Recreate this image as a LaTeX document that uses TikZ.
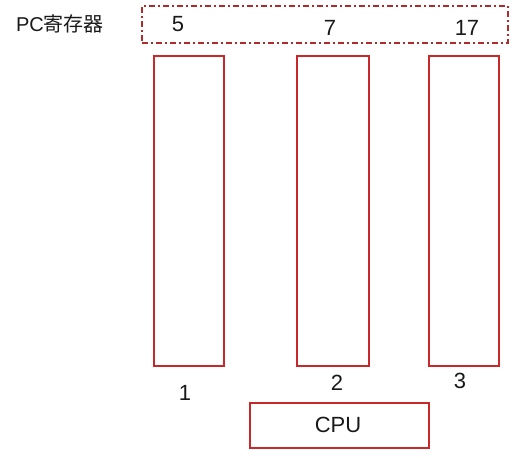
\documentclass[tikz,border=0pt]{standalone}
\usepackage{fontspec}
\setmainfont{Liberation Sans}
\newfontfamily\cjk{Noto Sans CJK SC}
\definecolor{boxred}{HTML}{C8282A}
\definecolor{dashred}{HTML}{B02A2A}
\begin{document}
\begin{tikzpicture}[x=1pt,y=-1pt,
  bar/.style={draw=boxred,line width=1.6pt,fill=white},
  lbl/.style={font=\fontsize{22}{26}\selectfont,text=black!90,inner sep=0pt}]
\useasboundingbox (0,0) rectangle (523,458);
\node[draw=dashred,line width=1.6pt,dash pattern=on 6pt off 3pt on 2pt off 3pt,minimum width=366pt,minimum height=37pt,inner sep=0pt] (pc) at (325,24.5) {};
\node[lbl,font=\fontsize{20}{24}\selectfont] (pclbl) at (60,24) {PC{\cjk 寄存器}};
\node[lbl] (n5) at (178,24) {5};
\node[lbl] (n7) at (330,28) {7};
\node[lbl] (n17) at (467,28) {17};
\node[bar,minimum width=70pt,minimum height=310pt,inner sep=0pt] (b1) at (189,211) {};
\node[bar,minimum width=72pt,minimum height=310pt,inner sep=0pt] (b2) at (333,211) {};
\node[bar,minimum width=70pt,minimum height=310pt,inner sep=0pt] (b3) at (464,211) {};
\node[lbl] (l1) at (185,393) {1};
\node[lbl] (l2) at (337,383) {2};
\node[lbl] (l3) at (460,381) {3};
\node[bar,minimum width=179pt,minimum height=45pt,inner sep=0pt] (cpu) at (339.5,425.5) {};
\node[lbl] (cputxt) at (338,425) {CPU};
\end{tikzpicture}
\end{document}
